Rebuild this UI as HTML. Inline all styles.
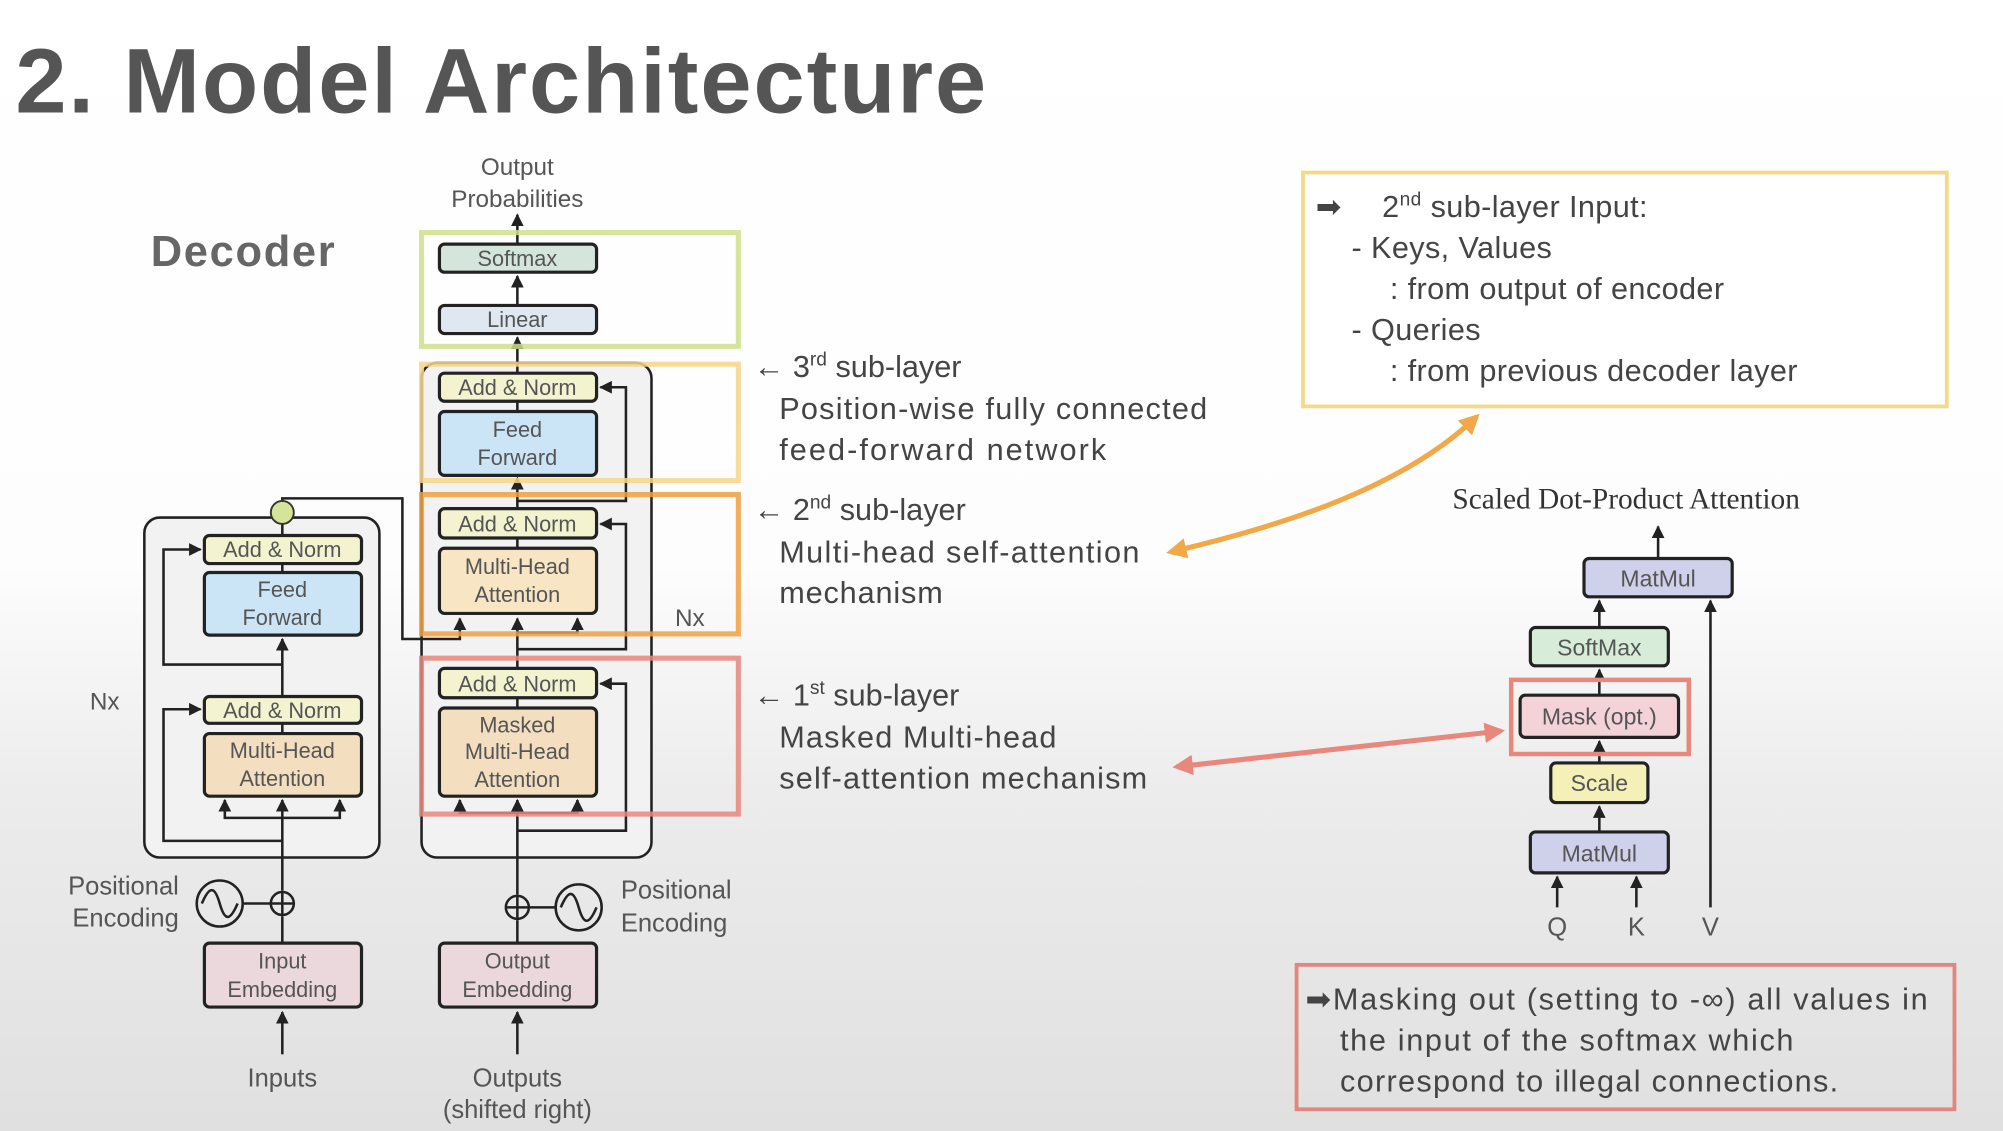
<!DOCTYPE html>
<html><head><meta charset="utf-8"><style>
html,body{margin:0;padding:0;}
body{width:2003px;height:1131px;overflow:hidden;background:linear-gradient(to bottom,#ffffff 0%,#fdfdfd 50%,#ececec 70%,#e0e0e0 100%);}
svg{display:block}
text{font-family:"Liberation Sans",sans-serif;}
</style></head><body>
<svg width="2003" height="1131" viewBox="0 0 1568 885" preserveAspectRatio="none" xmlns="http://www.w3.org/2000/svg">
<defs>
<marker id="ah" viewBox="0 0 10 10" refX="9" refY="5" markerWidth="5" markerHeight="5" orient="auto"><path d="M0,0L10,5L0,10z" fill="#222"/></marker>
<marker id="oh" viewBox="0 0 10 10" refX="8" refY="5" markerWidth="4" markerHeight="4" orient="auto-start-reverse"><path d="M0,0L10,5L0,10z" fill="#f0a848"/></marker>
<marker id="ph" viewBox="0 0 10 10" refX="8" refY="5" markerWidth="4" markerHeight="4" orient="auto-start-reverse"><path d="M0,0L10,5L0,10z" fill="#e8887c"/></marker>
</defs>
<text x="12" y="88" font-size="72" font-weight="bold" fill="#555" textLength="760" lengthAdjust="spacing">2. Model Architecture</text>
<text x="118" y="208" font-size="34" font-weight="bold" fill="#666" textLength="144" lengthAdjust="spacing">Decoder</text>
<rect x="330" y="284" width="180" height="387" rx="12" fill="#f2f2f2" stroke="#222" stroke-width="2"/>
<rect x="113" y="405" width="184" height="266" rx="12" fill="#f2f2f2" stroke="#222" stroke-width="2"/>
<g stroke="#222" stroke-width="2" fill="none">
<line x1="405" y1="825" x2="405" y2="792" marker-end="url(#ah)"/>
<line x1="405" y1="738" x2="405" y2="720"/>
<line x1="405" y1="700" x2="405" y2="626" marker-end="url(#ah)"/>
<line x1="405" y1="554" x2="405" y2="546"/>
<line x1="405" y1="523" x2="405" y2="484" marker-end="url(#ah)"/>
<line x1="405" y1="429" x2="405" y2="421"/>
<line x1="405" y1="398" x2="405" y2="374" marker-end="url(#ah)"/>
<line x1="405" y1="322" x2="405" y2="314"/>
<line x1="405" y1="292" x2="405" y2="264" marker-end="url(#ah)"/>
<line x1="405" y1="239" x2="405" y2="216" marker-end="url(#ah)"/>
<line x1="405" y1="191" x2="405" y2="168" marker-end="url(#ah)"/>
<path d="M405,650 H490 V535 H470" marker-end="url(#ah)"/>
<path d="M405,636 H360 V626" marker-end="url(#ah)"/>
<path d="M405,636 H452 V626" marker-end="url(#ah)"/>
<path d="M405,508 H490 V410 H470" marker-end="url(#ah)"/>
<path d="M405,495 H452 V484" marker-end="url(#ah)"/>
<path d="M405,392 H490 V303 H470" marker-end="url(#ah)"/>
<path d="M221,392 V390 H315 V500 H360 V484" marker-end="url(#ah)"/>
<line x1="221" y1="825" x2="221" y2="792" marker-end="url(#ah)"/>
<line x1="221" y1="738" x2="221" y2="717"/>
<line x1="221" y1="697" x2="221" y2="626" marker-end="url(#ah)"/>
<line x1="221" y1="574" x2="221" y2="566"/>
<line x1="221" y1="545" x2="221" y2="500" marker-end="url(#ah)"/>
<line x1="221" y1="448" x2="221" y2="441"/>
<line x1="221" y1="419" x2="221" y2="410"/>
<path d="M221,658 H128 V555 H157" marker-end="url(#ah)"/>
<path d="M221,640 H176 V626" marker-end="url(#ah)"/>
<path d="M221,640 H266 V626" marker-end="url(#ah)"/>
<path d="M221,520 H128 V430 H157" marker-end="url(#ah)"/>
<line x1="414" y1="710" x2="435" y2="710"/>
<line x1="190" y1="707" x2="212" y2="707"/>
<circle cx="405" cy="710" r="9"/><line x1="396" y1="710" x2="414" y2="710"/><line x1="405" y1="701" x2="405" y2="719"/>
<circle cx="221" cy="707" r="9"/><line x1="212" y1="707" x2="230" y2="707"/><line x1="221" y1="698" x2="221" y2="716"/>
<circle cx="453" cy="710" r="18"/><path d="M439,710 C445,696 449,696 453,710 C457,724 461,724 467,710"/>
<circle cx="172" cy="707" r="18"/><path d="M158,707 C164,693 168,693 172,707 C176,721 180,721 186,707"/>
</g>
<circle cx="221" cy="401" r="9" fill="#d6e49a" stroke="#333" stroke-width="1.5"/>
<g stroke="#222" stroke-width="2.5">
<rect x="344" y="191" width="123" height="22" rx="4" fill="#d4e5dc"/>
<rect x="344" y="239" width="123" height="22" rx="4" fill="#dfe8f0"/>
<rect x="344" y="292" width="123" height="22" rx="4" fill="#f3f3d0"/>
<rect x="344" y="322" width="123" height="50" rx="4" fill="#cce5f6"/>
<rect x="344" y="398" width="123" height="23" rx="4" fill="#f3f3d0"/>
<rect x="344" y="429" width="123" height="51" rx="4" fill="#f7e5c4"/>
<rect x="344" y="523" width="123" height="23" rx="4" fill="#f3f3d0"/>
<rect x="344" y="554" width="123" height="69" rx="4" fill="#f3dfc0"/>
<rect x="344" y="738" width="123" height="50" rx="4" fill="#ead8dc"/>
<rect x="160" y="419" width="123" height="22" rx="4" fill="#f3f3d0"/>
<rect x="160" y="448" width="123" height="49" rx="4" fill="#cce5f6"/>
<rect x="160" y="545" width="123" height="21" rx="4" fill="#f3f3d0"/>
<rect x="160" y="574" width="123" height="49" rx="4" fill="#f3dfc0"/>
<rect x="160" y="738" width="123" height="50" rx="4" fill="#ead8dc"/>
</g>
<g font-size="17" fill="#555" text-anchor="middle">
<text x="405" y="137" font-size="19">Output</text><text x="405" y="162" font-size="19">Probabilities</text>
<text x="405" y="208">Softmax</text><text x="405" y="256">Linear</text>
<text x="405" y="309">Add &amp; Norm</text><text x="405" y="342">Feed</text><text x="405" y="364">Forward</text>
<text x="405" y="416">Add &amp; Norm</text><text x="405" y="449">Multi-Head</text><text x="405" y="471">Attention</text>
<text x="405" y="541">Add &amp; Norm</text><text x="405" y="573">Masked</text><text x="405" y="594">Multi-Head</text><text x="405" y="616">Attention</text>
<text x="405" y="758">Output</text><text x="405" y="780">Embedding</text>
<text x="221" y="436">Add &amp; Norm</text><text x="221" y="467">Feed</text><text x="221" y="489">Forward</text>
<text x="221" y="562">Add &amp; Norm</text><text x="221" y="593">Multi-Head</text><text x="221" y="615">Attention</text>
<text x="221" y="758">Input</text><text x="221" y="780">Embedding</text>
<text x="540" y="490" font-size="19">Nx</text><text x="82" y="555" font-size="19">Nx</text>
<text x="486" y="703" font-size="20" text-anchor="start">Positional</text><text x="486" y="729" font-size="20" text-anchor="start">Encoding</text>
<text x="140" y="700" font-size="20" text-anchor="end">Positional</text><text x="140" y="725" font-size="20" text-anchor="end">Encoding</text>
<text x="221" y="850" font-size="20">Inputs</text>
<text x="405" y="850" font-size="20">Outputs</text><text x="405" y="875" font-size="20">(shifted right)</text>
</g>
<g fill="none" stroke-width="4" opacity="0.85">
<rect x="330" y="182" width="248" height="89" stroke="#cfe08a"/>
<rect x="330" y="285" width="248" height="91" stroke="#f6d68a"/>
<rect x="330" y="387" width="248" height="109" stroke="#f0a040"/>
<rect x="330" y="515" width="248" height="122" stroke="#e8887c"/>
</g>
<g font-size="24" fill="#444">
<text x="590" y="295">← 3<tspan font-size="15" dy="-9">rd</tspan><tspan dy="9"> sub-layer</tspan></text>
<text x="610" y="328" textLength="335" lengthAdjust="spacing">Position-wise fully connected</text><text x="610" y="360" textLength="256" lengthAdjust="spacing">feed-forward network</text>
<text x="590" y="407">← 2<tspan font-size="15" dy="-9">nd</tspan><tspan dy="9"> sub-layer</tspan></text>
<text x="610" y="440" textLength="282" lengthAdjust="spacing">Multi-head self-attention</text><text x="610" y="472" textLength="128" lengthAdjust="spacing">mechanism</text>
<text x="590" y="552">← 1<tspan font-size="15" dy="-9">st</tspan><tspan dy="9"> sub-layer</tspan></text>
<text x="610" y="585" textLength="217" lengthAdjust="spacing">Masked Multi-head</text><text x="610" y="617" textLength="288" lengthAdjust="spacing">self-attention mechanism</text>
</g>
<path d="M916,432 C1010,410 1100,380 1156,326" fill="none" stroke="#f0a848" stroke-width="4" marker-start="url(#oh)" marker-end="url(#oh)"/>
<path d="M921,600 L1175,572" fill="none" stroke="#e8887c" stroke-width="4" marker-start="url(#ph)" marker-end="url(#ph)"/>
<rect x="1020" y="135" width="504" height="183" fill="#fff" stroke="#f5d98a" stroke-width="3"/>
<g font-size="24" fill="#444" letter-spacing="0.3">
<text x="1030" y="170">➡</text>
<text x="1082" y="170">2<tspan font-size="15" dy="-9">nd</tspan><tspan dy="9"> sub-layer Input:</tspan></text>
<text x="1058" y="202">-   Keys, Values</text>
<text x="1088" y="234">: from output of encoder</text>
<text x="1058" y="266">-   Queries</text>
<text x="1088" y="298">: from previous decoder layer</text>
</g>
<text x="1273" y="398" font-size="23" fill="#333" text-anchor="middle" style="font-family:'Liberation Serif',serif">Scaled Dot-Product Attention</text>
<g stroke="#222" stroke-width="2" fill="none">
<line x1="1298" y1="437" x2="1298" y2="412" marker-end="url(#ah)"/>
<line x1="1252" y1="491" x2="1252" y2="470" marker-end="url(#ah)"/>
<line x1="1252" y1="544" x2="1252" y2="524" marker-end="url(#ah)"/>
<line x1="1252" y1="597" x2="1252" y2="580" marker-end="url(#ah)"/>
<line x1="1252" y1="651" x2="1252" y2="631" marker-end="url(#ah)"/>
<line x1="1219" y1="710" x2="1219" y2="686" marker-end="url(#ah)"/>
<line x1="1281" y1="710" x2="1281" y2="686" marker-end="url(#ah)"/>
<line x1="1339" y1="710" x2="1339" y2="470" marker-end="url(#ah)"/>
</g>
<g stroke="#222" stroke-width="2.5">
<rect x="1240" y="437" width="116" height="30" rx="4" fill="#cfd0ea"/>
<rect x="1198" y="491" width="108" height="30" rx="4" fill="#d7ecd9"/>
<rect x="1190" y="544" width="124" height="33" rx="4" fill="#f3d2d8"/>
<rect x="1214" y="597" width="76" height="31" rx="4" fill="#f4f0b8"/>
<rect x="1198" y="651" width="108" height="32" rx="4" fill="#cfd0ea"/>
</g>
<rect x="1183" y="532" width="139" height="58" fill="none" stroke="#e8887c" stroke-width="3.5"/>
<g font-size="18" fill="#555" text-anchor="middle">
<text x="1298" y="459">MatMul</text><text x="1252" y="513">SoftMax</text><text x="1252" y="567">Mask (opt.)</text>
<text x="1252" y="619">Scale</text><text x="1252" y="674">MatMul</text>
<text x="1219" y="732" font-size="20">Q</text><text x="1281" y="732" font-size="20">K</text><text x="1339" y="732" font-size="20">V</text>
</g>
<rect x="1015" y="755" width="515" height="113" fill="none" stroke="#e08880" stroke-width="3"/>
<g font-size="24" fill="#444">
<text x="1022" y="790" textLength="487" lengthAdjust="spacing">➡Masking out (setting to -∞) all values in</text>
<text x="1049" y="822" textLength="355" lengthAdjust="spacing">the input of the softmax which</text>
<text x="1049" y="854" textLength="390" lengthAdjust="spacing">correspond to illegal connections.</text>
</g>
</svg>
</body></html>
